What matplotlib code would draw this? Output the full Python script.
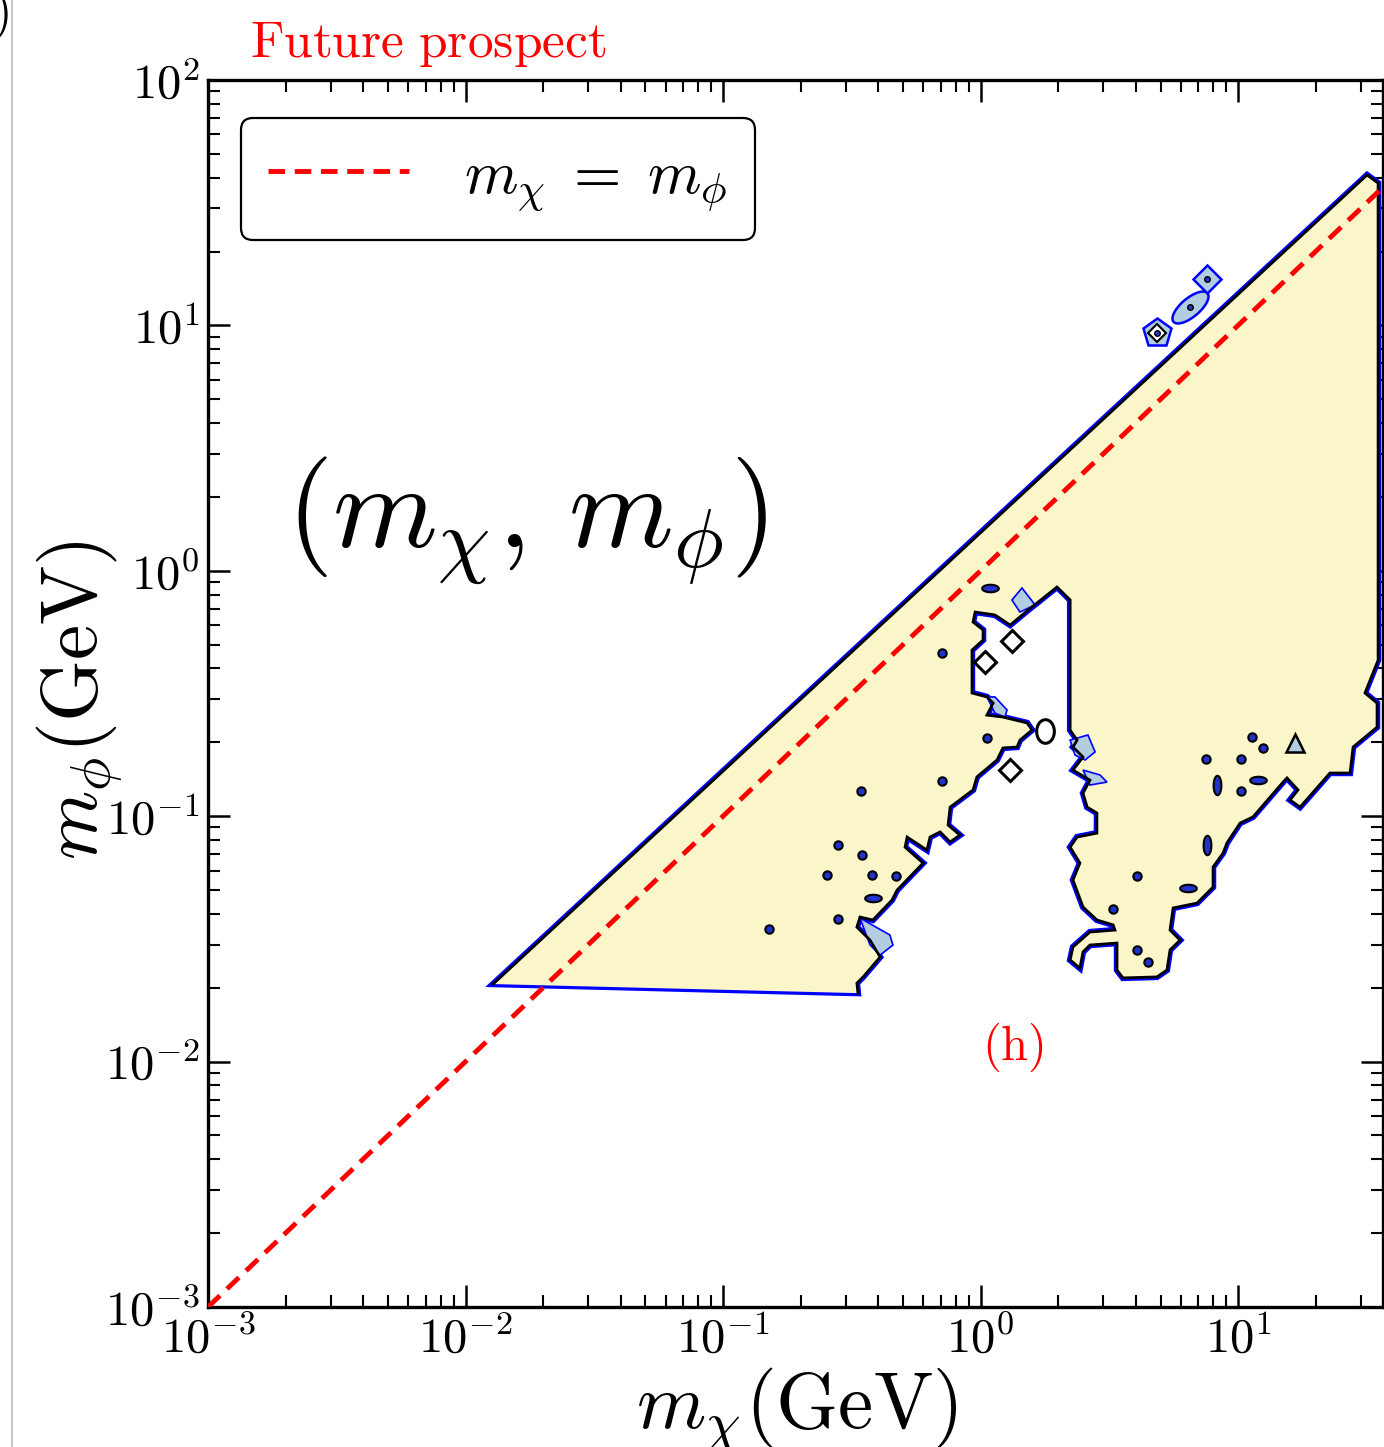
import numpy as np
import matplotlib
matplotlib.use('Agg')
import matplotlib.pyplot as plt
from matplotlib.lines import Line2D
from matplotlib.path import Path
from matplotlib.ticker import LogLocator, FuncFormatter, NullFormatter

plt.rcParams['mathtext.fontset'] = 'cm'
plt.rcParams['font.family'] = 'DejaVu Serif'

# ---- data (log10 of GeV) ----
# outline of the allowed region (black contour), clockwise from lower-left corner
edge_log_mchi = [-1.893, 1.501, 1.544, 1.544, 1.493, 1.540, 1.540, 1.447, 1.435, 1.357,
                 1.241, 1.202, 1.233, 1.190, 1.175, 1.058, 1.008, 0.957, 0.942, 0.903,
                 0.903, 0.841, 0.748, 0.736, 0.775, 0.736, 0.724, 0.685, 0.553, 0.530,
                 0.530, 0.425, 0.398, 0.386, 0.348, 0.359, 0.425, 0.522, 0.515, 0.452,
                 0.398, 0.359, 0.386, 0.348, 0.375, 0.452, 0.452, 0.414, 0.398, 0.425,
                 0.359, 0.398, 0.359, 0.375, 0.348, 0.348, 0.297, 0.185, 0.115, 0.056,
                 -0.021, -0.029, 0.010, 0.010, -0.033, -0.033, 0.025, 0.049, 0.025, 0.087,
                 0.181, 0.200, 0.153, 0.142, 0.087, 0.064, -0.014, -0.029, -0.118, -0.126,
                 -0.080, -0.118, -0.157, -0.196, -0.208, -0.285, -0.293, -0.223, -0.324, -0.344,
                 -0.418, -0.468, -0.480, -0.429, -0.390, -0.456, -0.480, -0.476]
edge_log_mphi = [-1.684, 1.613, 1.580, -0.364, -0.498, -0.539, -0.637, -0.718, -0.824, -0.824,
                 -0.963, -0.934, -0.893, -0.844, -0.861, -1.003, -1.028, -1.109, -1.150, -1.207,
                 -1.289, -1.354, -1.374, -1.464, -1.505, -1.545, -1.627, -1.655, -1.659, -1.627,
                 -1.517, -1.525, -1.553, -1.619, -1.586, -1.533, -1.472, -1.464, -1.443, -1.423,
                 -1.370, -1.260, -1.191, -1.126, -1.085, -1.069, -0.987, -0.963, -0.906, -0.853,
                 -0.812, -0.759, -0.718, -0.690, -0.649, -0.119, -0.066, -0.160, -0.221, -0.180,
                 -0.168, -0.209, -0.241, -0.282, -0.323, -0.498, -0.514, -0.539, -0.588, -0.596,
                 -0.620, -0.649, -0.690, -0.718, -0.722, -0.771, -0.840, -0.893, -0.963, -1.036,
                 -1.077, -1.105, -1.064, -1.085, -1.138, -1.085, -1.126, -1.191, -1.301, -1.342,
                 -1.423, -1.411, -1.452, -1.505, -1.574, -1.655, -1.680, -1.721]

# light blue bands (between the two contour levels)
band1_mchi = [0.122, 0.161, 0.212, 0.153]
band1_mphi = [-0.119, -0.070, -0.139, -0.168]
band2_mchi = [0.025, 0.056, 0.103, 0.095, 0.056]
band2_mphi = [-0.514, -0.514, -0.567, -0.596, -0.580]
band3_mchi = [0.348, 0.417, 0.445, 0.406, 0.367]
band3_mphi = [-0.690, -0.669, -0.738, -0.771, -0.751]
band4_mchi = [0.398, 0.464, 0.491, 0.425]
band4_mphi = [-0.812, -0.832, -0.861, -0.873]
band5_mchi = [-0.468, -0.352, -0.340, -0.390, -0.429]
band5_mphi = [-1.415, -1.484, -1.525, -1.566, -1.525]

# small closed contours (islands)
dot_log_mchi = [-0.150, 0.025, -0.150, -0.464, -0.553, -0.460, -0.596, -0.421, -0.328, -0.553,
                -0.821, 1.054, 1.097, 0.876, 1.012, 1.012, 0.608, 0.515, 0.608, 0.651]
dot_log_mphi = [-0.335, -0.681, -0.857, -0.897, -1.117, -1.158, -1.240, -1.240, -1.244, -1.419,
                -1.460, -0.677, -0.722, -0.767, -0.767, -0.897, -1.244, -1.378, -1.545, -1.594]
hoval_log_mchi = [-0.418, 0.037, 1.078, 0.806]
hoval_log_mphi = [-1.333, -0.070, -0.853, -1.293]
voval_log_mchi = [0.918, 0.880]
voval_log_mphi = [-0.873, -1.117]
hole_log_mchi = [0.122, 0.017, 0.115]
hole_log_mphi = [-0.286, -0.372, -0.812]
bighole_log_mchi = [0.250]
bighole_log_mphi = [-0.653]
tri_log_mchi = [1.221]
tri_log_mphi = [-0.702]
# isolated islands above the edge
isle_log_mchi = [0.685, 0.814, 0.880]
isle_log_mphi = [0.969, 1.075, 1.189]

diag = [1e-3, 40.0]

YELLOW = '#faf6c9'
LBLUE = '#b3cde0'

def P(a):
    return 10.0 ** np.array(a)

def ellipse(sx, sy, ang=0.0):
    t = np.linspace(0, 2 * np.pi, 41)
    c, s = np.cos(np.radians(ang)), np.sin(np.radians(ang))
    x = sx * np.cos(t)
    y = sy * np.sin(t)
    return Path(np.column_stack([c * x - s * y, s * x + c * y]), closed=True)

fig = plt.figure(figsize=(13.84, 14.47), dpi=100)
W, H = 1384.0, 1447.0
ax = fig.add_axes([208 / W, 1 - 1307 / H, (1383 - 208) / W, (1307 - 80) / H])
ax.set_xscale('log')
ax.set_yscale('log')
ax.set_xlim(1e-3, 10 ** 1.563)
ax.set_ylim(1e-3, 1e2)

ex, ey = P(edge_log_mchi), P(edge_log_mphi)
ax.fill(ex, ey, facecolor='none', edgecolor='#0000ff', lw=4.6, zorder=2)
ax.fill(ex, ey, facecolor=YELLOW, edgecolor='none', zorder=3)
for bx, by in [(band1_mchi, band1_mphi), (band2_mchi, band2_mphi), (band3_mchi, band3_mphi),
               (band4_mchi, band4_mphi), (band5_mchi, band5_mphi)]:
    ax.fill(P(bx), P(by), facecolor=LBLUE, edgecolor='#0000ff', lw=1.2, zorder=4)
ax.plot(ex, ey, color='black', lw=2.0, zorder=5, solid_joinstyle='miter')

# islands
ax.plot(P(dot_log_mchi), P(dot_log_mphi), ls='none', marker='o', ms=6,
        mfc='#2233cc', mec='black', mew=1.5, zorder=6)
ax.plot(P(hoval_log_mchi), P(hoval_log_mphi), ls='none', marker=ellipse(1, 0.45), ms=12,
        mfc='#2233cc', mec='black', mew=1.5, zorder=6)
ax.plot(P(voval_log_mchi), P(voval_log_mphi), ls='none', marker=ellipse(0.4, 1), ms=14,
        mfc='#2233cc', mec='black', mew=1.5, zorder=6)
ax.plot(P(hole_log_mchi), P(hole_log_mphi), ls='none', marker='D', ms=11,
        mfc='white', mec='black', mew=2.2, zorder=6)
ax.plot(P(bighole_log_mchi), P(bighole_log_mphi), ls='none', marker=ellipse(0.75, 1), ms=17,
        mfc='white', mec='black', mew=2.2, zorder=6)
ax.plot(P(tri_log_mchi), P(tri_log_mphi), ls='none', marker='^', ms=13,
        mfc=LBLUE, mec='black', mew=1.8, zorder=6)
ax.plot(P(isle_log_mchi[:1]), P(isle_log_mphi[:1]), ls='none', marker='p', ms=21,
        mfc=LBLUE, mec='#0000ff', mew=1.8, zorder=6)
ax.plot(P(isle_log_mchi[1:2]), P(isle_log_mphi[1:2]), ls='none', marker=ellipse(1, 0.42, 40), ms=26,
        mfc=LBLUE, mec='#0000ff', mew=1.8, zorder=6)
ax.plot(P(isle_log_mchi[2:]), P(isle_log_mphi[2:]), ls='none', marker='D', ms=14,
        mfc=LBLUE, mec='#0000ff', mew=1.8, zorder=6)
ax.plot(P(isle_log_mchi[:1]), P(isle_log_mphi[:1]), ls='none', marker='D', ms=9,
        mfc='white', mec='black', mew=1.5, zorder=7)
ax.plot(P(isle_log_mchi), P(isle_log_mphi), ls='none', marker='o', ms=4,
        mfc='#2233cc', mec='black', mew=1.0, zorder=7)

# m_chi = m_phi
ax.plot(diag, diag, color='red', lw=3.5, dashes=(3.4, 2.0), zorder=8,
        label=r'$m_\chi\;=\;m_\phi$')

leg = ax.legend(loc='upper left', bbox_to_anchor=(0.028, 0.969), borderaxespad=0,
                fontsize=44, handlelength=2.3, handletextpad=0.9, borderpad=0.45,
                fancybox=True, framealpha=1, edgecolor='black')
leg.get_frame().set_linewidth(1.6)

# axes styling
for sp in ax.spines.values():
    sp.set_linewidth(2.4)
fmt = FuncFormatter(lambda v, p: r'$10^{%d}$' % int(round(np.log10(v))))
for a in (ax.xaxis, ax.yaxis):
    a.set_major_locator(LogLocator(base=10, numticks=20))
    a.set_minor_locator(LogLocator(base=10, subs=np.arange(2, 10), numticks=20))
    a.set_major_formatter(fmt)
    a.set_minor_formatter(NullFormatter())
ax.tick_params(which='both', direction='in', top=True, right=True, labelsize=35)
ax.tick_params(which='major', length=16, width=1.8, pad=6)
ax.tick_params(which='minor', length=8.5, width=1.5)

# texts
fig.text(250 / W, 1 - 57 / H, r'$\mathrm{Future\ prospect}$', color='red', fontsize=37,
         ha='left', va='baseline')
fig.text(797 / W, 1 - 1428 / H, r'$m_\chi(\mathrm{GeV})$', fontsize=57, ha='center', va='baseline')
fig.text(80 / W, 1 - 700 / H, r'$m_\phi(\mathrm{GeV})$', fontsize=57, ha='center', va='center',
         rotation=90)
fig.text(527 / W, 1 - 521 / H, r'$(m_\chi,\,m_\phi)$', fontsize=86, ha='center', va='center')
fig.text(1013 / W, 1 - 1047 / H, r'$\mathrm{(h)}$', color='red', fontsize=35, ha='center',
         va='center')
fig.text(0 / W, 1 - 15 / H, r'$)$', fontsize=36, ha='center', va='center')
fig.add_artist(Line2D([12 / W, 12 / W], [0, 1], color='#c8c8c8', lw=1.5))

fig.savefig('out.png', dpi=100)
